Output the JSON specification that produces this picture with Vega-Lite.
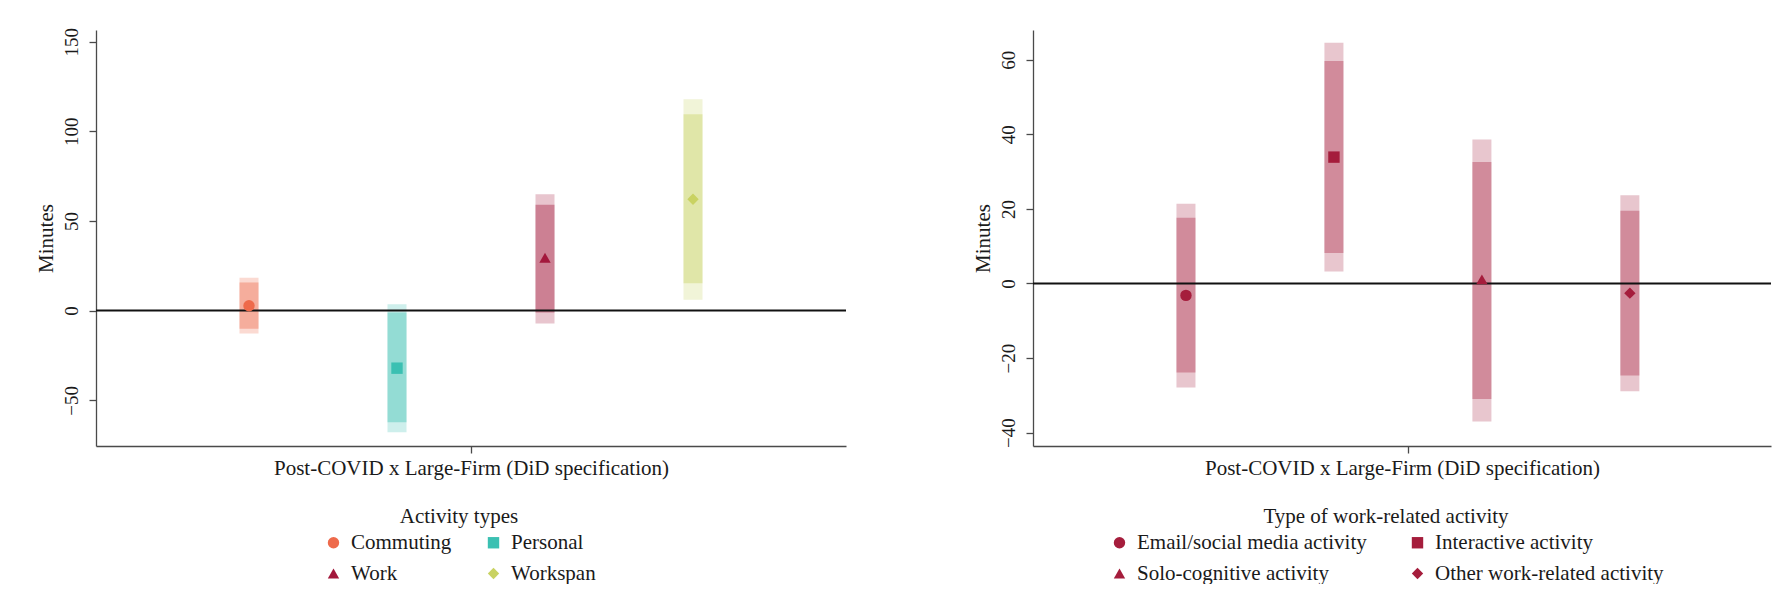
{
  "$schema": "https://vega.github.io/schema/vega-lite/v6.json",
  "background": "white",
  "padding": {"left": 35, "top": 27, "right": 0, "bottom": 0},
  "spacing": 124,
  "config": {
    "font": "Liberation Serif",
    "view": {"stroke": null},
    "axis": {"grid": false, "domainColor": "#4a4a4a", "domainWidth": 1.3, "tickColor": "#4a4a4a", "tickWidth": 1.3, "tickSize": 7, "labelColor": "#1a1a1a", "labelFontSize": 19, "titleColor": "#1a1a1a", "titleFontSize": 21, "titleFontWeight": "normal", "labelFont": "Liberation Serif", "titleFont": "Liberation Serif"},
    "legend": {"orient": "none", "direction": "horizontal", "columns": 2, "labelFontSize": 21, "titleFontSize": 21, "titleFontWeight": "normal", "labelColor": "#1a1a1a", "titleColor": "#1a1a1a", "titleAnchor": "middle", "labelOffset": 7, "rowPadding": 9, "symbolSize": 130, "symbolStrokeWidth": 0, "symbolOpacity": 1, "titlePadding": 5, "labelFont": "Liberation Serif", "titleFont": "Liberation Serif", "labelLimit": 400, "titleLimit": 600}
  },
  "datasets": {
    "left": [
      {"activity": "Commuting", "pos": 1, "est": 2.7, "lo95": -12.8, "hi95": 18.4, "lo90": -10.1, "hi90": 15.7},
      {"activity": "Personal", "pos": 2, "est": -32.1, "lo95": -67.8, "hi95": 3.6, "lo90": -62.3, "hi90": -1.1},
      {"activity": "Work", "pos": 3, "est": 29.5, "lo95": -7.2, "hi95": 64.9, "lo90": -1.1, "hi90": 59.0},
      {"activity": "Workspan", "pos": 4, "est": 62.1, "lo95": 6.1, "hi95": 117.9, "lo90": 15.3, "hi90": 109.5}
    ],
    "right": [
      {"activity": "Email/social media activity", "pos": 1, "est": -3.2, "lo95": -27.9, "hi95": 21.4, "lo90": -23.9, "hi90": 17.6},
      {"activity": "Interactive activity", "pos": 2, "est": 33.9, "lo95": 3.2, "hi95": 64.6, "lo90": 8.2, "hi90": 59.7},
      {"activity": "Solo-cognitive activity", "pos": 3, "est": 1.1, "lo95": -37.0, "hi95": 38.6, "lo90": -31.0, "hi90": 32.6},
      {"activity": "Other work-related activity", "pos": 4, "est": -2.6, "lo95": -28.9, "hi95": 23.7, "lo90": -24.7, "hi90": 19.5}
    ]
  },
  "resolve": {"scale": {"x": "independent", "y": "independent", "color": "independent", "shape": "independent"}},
  "hconcat": [
    {
      "width": 750,
      "height": 416,
      "data": {"name": "left"},
      "layer": [
        {
          "mark": {"type": "bar", "size": 19, "opacity": 0.25},
          "encoding": {
            "x": {"field": "pos", "type": "quantitative", "scale": {"domain": [0, 5], "nice": false, "zero": false},
                  "axis": {"values": [2.5], "labels": false, "title": "Post-COVID x Large-Firm (DiD specification)", "titlePadding": 4}},
            "y": {"field": "lo95", "type": "quantitative", "scale": {"domain": [-75.5, 156.5], "nice": false, "zero": false},
                  "axis": {"values": [-50, 0, 50, 100, 150], "title": "Minutes", "labelAngle": 270, "labelAlign": "center", "labelBaseline": "alphabetic", "labelPadding": 12, "titlePadding": 6}},
            "y2": {"field": "hi95"},
            "color": {"field": "activity", "type": "nominal", "scale": {"domain": ["Commuting", "Personal", "Work", "Workspan"], "range": ["#ee6a4b", "#3bc0b2", "#a3183c", "#c9d262"]},
                      "legend": {"title": "Activity types", "legendX": 227, "legendY": 476, "columnPadding": 31, "symbolOpacity": 1}}
          }
        },
        {
          "mark": {"type": "bar", "size": 19, "opacity": 0.4},
          "encoding": {
            "x": {"field": "pos", "type": "quantitative",
                  "axis": {"values": [2.5], "labels": false, "title": "Post-COVID x Large-Firm (DiD specification)", "titlePadding": 4}},
            "y": {"field": "lo90", "type": "quantitative",
                  "axis": {"values": [-50, 0, 50, 100, 150], "title": "Minutes", "labelAngle": 270, "labelAlign": "center", "labelBaseline": "alphabetic", "labelPadding": 12, "titlePadding": 6}},
            "y2": {"field": "hi90"},
            "color": {"field": "activity", "type": "nominal",
                      "legend": {"title": "Activity types", "legendX": 227, "legendY": 476, "columnPadding": 31, "symbolOpacity": 1}}
          }
        },
        {
          "data": {"values": [{}]},
          "mark": {"type": "rule", "color": "#111111", "strokeWidth": 2},
          "encoding": {"y": {"datum": 0, "type": "quantitative",
                  "axis": {"values": [-50, 0, 50, 100, 150], "title": "Minutes", "labelAngle": 270, "labelAlign": "center", "labelBaseline": "alphabetic", "labelPadding": 12, "titlePadding": 6}}}
        },
        {
          "mark": {"type": "point", "filled": true, "opacity": 1, "size": 130},
          "encoding": {
            "x": {"field": "pos", "type": "quantitative",
                  "axis": {"values": [2.5], "labels": false, "title": "Post-COVID x Large-Firm (DiD specification)", "titlePadding": 4}},
            "y": {"field": "est", "type": "quantitative",
                  "axis": {"values": [-50, 0, 50, 100, 150], "title": "Minutes", "labelAngle": 270, "labelAlign": "center", "labelBaseline": "alphabetic", "labelPadding": 12, "titlePadding": 6}},
            "color": {"field": "activity", "type": "nominal",
                      "legend": {"title": "Activity types", "legendX": 227, "legendY": 476, "columnPadding": 31, "symbolOpacity": 1}},
            "shape": {"field": "activity", "type": "nominal", "scale": {"domain": ["Commuting", "Personal", "Work", "Workspan"], "range": ["circle", "square", "triangle-up", "diamond"]},
                      "legend": {"title": "Activity types", "legendX": 227, "legendY": 476, "columnPadding": 31, "symbolOpacity": 1}}
          }
        }
      ]
    },
    {
      "width": 738,
      "height": 416,
      "data": {"name": "right"},
      "layer": [
        {
          "mark": {"type": "bar", "size": 19, "opacity": 0.25, "color": "#a51d3c"},
          "encoding": {
            "x": {"field": "pos", "type": "quantitative", "scale": {"domain": [0, 4.92], "nice": false, "zero": false},
                  "axis": {"values": [2.5], "labels": false, "title": "Post-COVID x Large-Firm (DiD specification)", "titlePadding": 4}},
            "y": {"field": "lo95", "type": "quantitative", "scale": {"domain": [-43.6, 68.0], "nice": false, "zero": false},
                  "axis": {"values": [-40, -20, 0, 20, 40, 60], "title": "Minutes", "labelAngle": 270, "labelAlign": "center", "labelBaseline": "alphabetic", "labelPadding": 12, "titlePadding": 6}},
            "y2": {"field": "hi95"}
          }
        },
        {
          "mark": {"type": "bar", "size": 19, "opacity": 0.35, "color": "#a51d3c"},
          "encoding": {
            "x": {"field": "pos", "type": "quantitative",
                  "axis": {"values": [2.5], "labels": false, "title": "Post-COVID x Large-Firm (DiD specification)", "titlePadding": 4}},
            "y": {"field": "lo90", "type": "quantitative",
                  "axis": {"values": [-40, -20, 0, 20, 40, 60], "title": "Minutes", "labelAngle": 270, "labelAlign": "center", "labelBaseline": "alphabetic", "labelPadding": 12, "titlePadding": 6}},
            "y2": {"field": "hi90"}
          }
        },
        {
          "data": {"values": [{}]},
          "mark": {"type": "rule", "color": "#111111", "strokeWidth": 2},
          "encoding": {"y": {"datum": 0, "type": "quantitative",
                  "axis": {"values": [-40, -20, 0, 20, 40, 60], "title": "Minutes", "labelAngle": 270, "labelAlign": "center", "labelBaseline": "alphabetic", "labelPadding": 12, "titlePadding": 6}}}
        },
        {
          "mark": {"type": "point", "filled": true, "opacity": 1, "size": 130, "color": "#a51d3c"},
          "encoding": {
            "x": {"field": "pos", "type": "quantitative",
                  "axis": {"values": [2.5], "labels": false, "title": "Post-COVID x Large-Firm (DiD specification)", "titlePadding": 4}},
            "y": {"field": "est", "type": "quantitative",
                  "axis": {"values": [-40, -20, 0, 20, 40, 60], "title": "Minutes", "labelAngle": 270, "labelAlign": "center", "labelBaseline": "alphabetic", "labelPadding": 12, "titlePadding": 6}},
            "shape": {"field": "activity", "type": "nominal", "scale": {"domain": ["Email/social media activity", "Interactive activity", "Solo-cognitive activity", "Other work-related activity"], "range": ["circle", "square", "triangle-up", "diamond"]},
                      "legend": {"title": "Type of work-related activity", "legendX": 76, "legendY": 476, "columnPadding": 40, "symbolFillColor": "#a51d3c", "symbolStrokeColor": "#a51d3c", "symbolOpacity": 1}}
          }
        }
      ]
    }
  ]
}
